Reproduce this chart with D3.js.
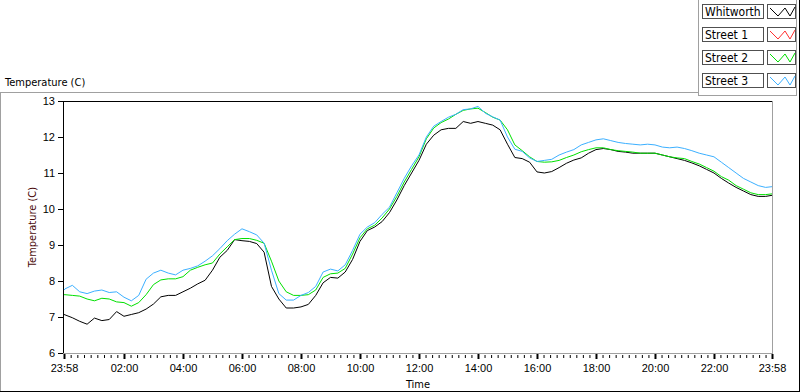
<!DOCTYPE html>
<html>
<head>
<meta charset="utf-8">
<script src="https://cdn.jsdelivr.net/npm/d3@7"></script>
<style>
  body { margin: 0; background: #fff; }
  svg { display: block; font-family: "DejaVu Sans Condensed", "DejaVu Sans", sans-serif; }
</style>
</head>
<body>
<div id="vis"></div>
<script>
// sample times (first one is 23:58 of the previous day)
const times = [
  "23:58",
  "00:00","00:15","00:30","00:45","01:00","01:15","01:30","01:45",
  "02:00","02:15","02:30","02:45","03:00","03:15","03:30","03:45",
  "04:00","04:15","04:30","04:45","05:00","05:15","05:30","05:45",
  "06:00","06:15","06:30","06:45","07:00","07:15","07:30","07:45",
  "08:00","08:15","08:30","08:45","09:00","09:15","09:30","09:45",
  "10:00","10:15","10:30","10:45","11:00","11:15","11:30","11:45",
  "12:00","12:15","12:30","12:45","13:00","13:15","13:30","13:45",
  "14:00","14:15","14:30","14:45","15:00","15:15","15:30","15:45",
  "16:00","16:15","16:30","16:45","17:00","17:15","17:30","17:45",
  "18:00","18:15","18:30","18:45","19:00","19:15","19:30","19:45",
  "20:00","20:15","20:30","20:45","21:00","21:15","21:30","21:45",
  "22:00","22:15","22:30","22:45","23:00","23:15","23:30","23:45",
  "23:58"
];

const whitworth = [
  7.07,
  7.06, 6.98, 6.88, 6.80, 6.97, 6.90, 6.93, 7.15,
  7.02, 7.07, 7.12, 7.22, 7.36, 7.56, 7.60, 7.60,
  7.70, 7.80, 7.92, 8.02, 8.30, 8.66, 8.85, 9.15,
  9.12, 9.10, 9.04, 8.80, 7.85, 7.50, 7.25, 7.25,
  7.28, 7.35, 7.60, 7.95, 8.10, 8.08, 8.25, 8.60,
  9.10, 9.40, 9.50, 9.65, 9.90, 10.25, 10.65, 11.00,
  11.35, 11.80, 12.05, 12.20, 12.24, 12.24, 12.43, 12.38,
  12.43, 12.38, 12.33, 12.20, 11.80, 11.43, 11.40, 11.30,
  11.03, 11.00, 11.04, 11.15, 11.27, 11.36, 11.42, 11.55,
  11.65, 11.68, 11.65, 11.60, 11.58, 11.55, 11.55, 11.55,
  11.55, 11.50, 11.45, 11.40, 11.35, 11.28, 11.20, 11.10,
  11.00, 10.85, 10.72, 10.60, 10.50, 10.40, 10.35, 10.35,
  10.38
];

// Street 1 has no visible trace in the chart
const street1 = [];

const street2 = [
  7.62,
  7.62, 7.60, 7.58, 7.50, 7.45, 7.52, 7.50, 7.42,
  7.40, 7.30, 7.40, 7.62, 7.90, 8.03, 8.06, 8.06,
  8.12, 8.30, 8.38, 8.45, 8.50, 8.75, 8.95, 9.15,
  9.18, 9.18, 9.13, 9.05, 8.55, 8.00, 7.70, 7.60,
  7.60, 7.62, 7.75, 8.10, 8.20, 8.22, 8.35, 8.75,
  9.20, 9.45, 9.55, 9.75, 10.00, 10.35, 10.75, 11.10,
  11.45, 11.95, 12.25, 12.40, 12.50, 12.63, 12.74, 12.78,
  12.80, 12.68, 12.55, 12.47, 12.20, 11.78, 11.62, 11.45,
  11.32, 11.30, 11.31, 11.35, 11.43, 11.50, 11.59, 11.65,
  11.70, 11.70, 11.65, 11.62, 11.60, 11.58, 11.55, 11.55,
  11.55, 11.50, 11.45, 11.42, 11.40, 11.32, 11.25, 11.15,
  11.05, 10.90, 10.80, 10.65, 10.55, 10.45, 10.40, 10.40,
  10.42
];

const street3 = [
  7.75,
  7.78, 7.88, 7.70, 7.65, 7.72, 7.75, 7.68, 7.70,
  7.55, 7.45, 7.60, 8.05, 8.22, 8.30, 8.22, 8.17,
  8.30, 8.35, 8.42, 8.55, 8.70, 8.90, 9.12, 9.30,
  9.45, 9.37, 9.28, 9.05, 8.30, 7.65, 7.47, 7.47,
  7.60, 7.68, 7.85, 8.25, 8.33, 8.28, 8.45, 8.85,
  9.30, 9.50, 9.62, 9.85, 10.05, 10.45, 10.85, 11.20,
  11.50, 12.00, 12.30, 12.43, 12.55, 12.63, 12.76, 12.78,
  12.85, 12.66, 12.56, 12.47, 12.00, 11.66, 11.60, 11.42,
  11.32, 11.35, 11.38, 11.50, 11.58, 11.65, 11.78, 11.85,
  11.92, 11.95, 11.90, 11.85, 11.82, 11.80, 11.78, 11.80,
  11.78, 11.72, 11.70, 11.72, 11.68, 11.62, 11.55, 11.50,
  11.45, 11.30, 11.15, 11.00, 10.85, 10.75, 10.65, 10.60,
  10.62
];

const seriesNames = ["Whitworth", "Street 1", "Street 2", "Street 3"];
const seriesValues = [whitworth, street1, street2, street3];
const seriesColors = ["#000000", "#ff3030", "#00e000", "#3cb0ff"];

const yTicks = [6, 7, 8, 9, 10, 11, 12, 13];
const xTickLabels = ["23:58", "02:00", "04:00", "06:00", "08:00", "10:00", "12:00",
                     "14:00", "16:00", "18:00", "20:00", "22:00", "23:58"];

// first entry of a list is the previous evening, the rest are the next day
function toDate(s, i) {
  const [h, m] = s.split(":").map(Number);
  return i === 0 ? new Date(2020, 0, 1, h, m) : new Date(2020, 0, 2, h, m);
}

const dates = times.map(toDate);
const majorDates = xTickLabels.map(toDate);

const svg = d3.select("#vis")
  .append("svg")
  .attr("width", 800)
  .attr("height", 392);

const xScale = d3.scaleTime()
  .domain([majorDates[0], majorDates[majorDates.length - 1]])
  .range([64, 772]);

const yScale = d3.scaleLinear()
  .domain([6, 13])
  .range([353, 101]);

const gray = "#a0a0a0";

// outer frame
function hline(x1, x2, yy, color) {
  svg.append("line").attr("x1", x1).attr("x2", x2).attr("y1", yy).attr("y2", yy)
    .attr("stroke", color).attr("shape-rendering", "crispEdges");
}
function vline(xx, y1, y2, color) {
  svg.append("line").attr("x1", xx).attr("x2", xx).attr("y1", y1).attr("y2", y2)
    .attr("stroke", color).attr("shape-rendering", "crispEdges");
}
hline(0, 698, 92.5, gray);
vline(0.5, 92, 392, gray);
hline(0, 800, 391.5, "#000");
vline(799.5, 0, 392, "#000");
// legend panel border
vline(698.5, 0, 96, gray);
hline(698, 797, 95.5, gray);
vline(796.5, 0, 96, gray);

// plot frame: black top/left, gray bottom/right
hline(63, 773, 101.5, "#000");
vline(63.5, 101, 354, "#000");
hline(63, 773, 353.5, gray);
vline(772.5, 101, 354, gray);

// y axis
const yAxis = svg.append("g")
  .attr("transform", "translate(63,0)")
  .call(d3.axisLeft(yScale).tickValues(yTicks).tickSize(5).tickPadding(3).tickFormat(d3.format("d")));
yAxis.select(".domain").remove();
yAxis.selectAll("text").attr("font-size", 11).attr("fill", "#000");
yAxis.selectAll("line").attr("stroke", "#000");

// x axis: major ticks
const xAxis = svg.append("g")
  .attr("transform", "translate(0,353)")
  .call(d3.axisBottom(xScale).tickValues(majorDates).tickSize(6)
    .tickFormat((d, i) => xTickLabels[i]));
xAxis.select(".domain").remove();
xAxis.selectAll("line").attr("stroke", "#000").attr("stroke-width", 2).attr("y1", 1);
xAxis.selectAll("text").attr("font-size", 11).attr("fill", "#000")
  .attr("y", 19).attr("dy", null);

// x axis: minor ticks, 8 between each pair of majors
const minorDates = [];
for (let i = 0; i < majorDates.length - 1; i++) {
  const a = +majorDates[i], b = +majorDates[i + 1];
  for (let k = 1; k <= 8; k++) minorDates.push(new Date(a + (b - a) * k / 9));
}
const xMinor = svg.append("g")
  .attr("transform", "translate(0,354)")
  .call(d3.axisBottom(xScale).tickValues(minorDates).tickSize(4).tickFormat(""));
xMinor.select(".domain").remove();
xMinor.selectAll("line").attr("stroke", "#000").attr("y1", 1);

// axis titles
svg.append("text")
  .attr("x", 5).attr("y", 86)
  .attr("font-size", 11)
  .text("Temperature (C)");

svg.append("text")
  .attr("transform", "translate(36,227) rotate(-90)")
  .attr("text-anchor", "middle")
  .attr("font-size", 11)
  .attr("fill", "#4a0a0a")
  .text("Temperature (C)");

svg.append("text")
  .attr("x", 418).attr("y", 388)
  .attr("text-anchor", "middle")
  .attr("font-size", 11)
  .text("Time");

// series, drawn in legend order so Street 3 ends up on top
const line = d3.line()
  .x(d => xScale(d.date))
  .y(d => yScale(d.value));

seriesValues.forEach((vals, s) => {
  if (!vals.length) return;
  const pts = vals.map((v, i) => ({ date: dates[i], value: v }));
  svg.append("path")
    .datum(pts)
    .attr("fill", "none")
    .attr("stroke", seriesColors[s])
    .attr("stroke-width", 1)
    .attr("d", line);
});

// legend
const legend = svg.append("g").attr("transform", "translate(702,4)");
seriesNames.forEach((name, i) => {
  const g = legend.append("g").attr("transform", `translate(0,${i * 23})`);
  g.append("rect").attr("x", 0.5).attr("y", 0.5).attr("width", 61).attr("height", 14)
    .attr("fill", "#fff").attr("stroke", "#505050").attr("shape-rendering", "crispEdges");
  g.append("text").attr("x", 3).attr("y", 12).attr("font-size", 12).text(name);
  g.append("rect").attr("x", 65.5).attr("y", 0.5).attr("width", 28).attr("height", 14)
    .attr("fill", "#fff").attr("stroke", "#505050").attr("shape-rendering", "crispEdges");
  g.append("path")
    .attr("d", "M68,4L76,12L83,4L88,12L93,3")
    .attr("fill", "none").attr("stroke", seriesColors[i]).attr("stroke-width", 1);
});
</script>
</body>
</html>
